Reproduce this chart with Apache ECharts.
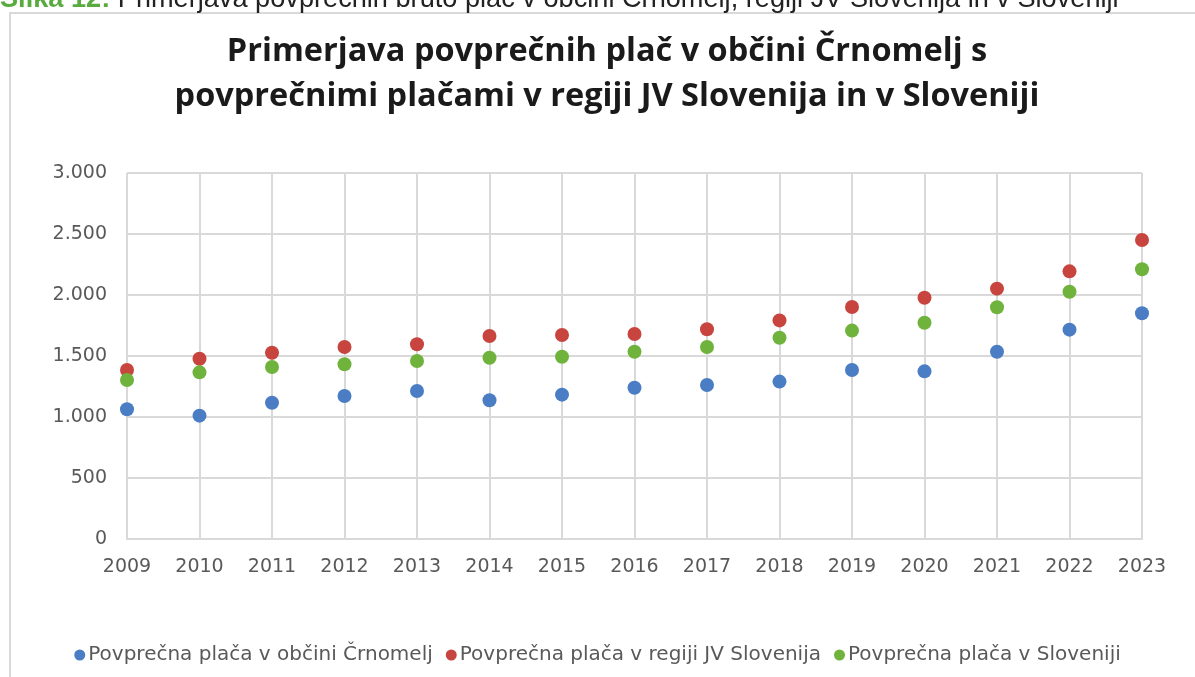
<!DOCTYPE html>
<html>
<head>
<meta charset="utf-8">
<script src="https://cdn.jsdelivr.net/npm/echarts@6/dist/echarts.min.js"></script>
<style>html,body{margin:0;padding:0;background:#fff;}#c{width:1195px;height:677px;}</style>
</head>
<body>
<div id="c"></div>
<script>
const years = ['2009','2010','2011','2012','2013','2014','2015','2016','2017','2018','2019','2020','2021','2022','2023'];
const crnomelj = [1063,1011,1117,1172,1213,1137,1183,1240,1262,1290,1385,1374,1535,1716,1850];
const regija = [1385,1478,1527,1574,1596,1664,1672,1680,1719,1792,1902,1978,2052,2194,2451];
const slovenija = [1303,1366,1410,1432,1459,1486,1494,1535,1574,1650,1708,1773,1899,2027,2211];
const seriesNames = ['Povprečna plača v občini Črnomelj','Povprečna plača v regiji JV Slovenija','Povprečna plača v Sloveniji'];
const titleLines = ['Primerjava povprečnih plač v občini Črnomelj s','povprečnimi plačami v regiji JV Slovenija in v Sloveniji'];
const captionLabel = 'Slika 12:';
const captionText = 'Primerjava povprečnih bruto plač v občini Črnomelj, regiji JV Slovenija in v Sloveniji';

const chart = echarts.init(document.getElementById('c'));
const colors = ['#4a7dc4','#c8453f','#6fb33c'];
const fmt = v => String(v).replace(/\B(?=(\d{3})+(?!\d))/g, '.');
chart.setOption({
  animation: false,
  color: colors,
  textStyle: {fontFamily: 'DejaVu Sans'},
  graphic: [
    {type:'rect', shape:{x:10, y:13, width:1200, height:700}, style:{fill:'#fff', stroke:'#d9d9d9', lineWidth:2}, z:-10},
    {type:'text', x:0, y:13, scaleX:0.97,
     style:{text:'{g|' + captionLabel + '} ' + captionText, verticalAlign:'bottom',
       rich:{g:{font:'bold 28px "Liberation Sans"', fill:'#5aab3f'}},
       font:'28px "Liberation Sans"', fill:'#222'}},
    {type:'text', x:607, y:29, style:{text:titleLines.join('\n'), font:'bold 32.5px "Open Sans"', fill:'#1a1a1a', align:'center', lineHeight:45}}
  ],
  legend: {
    bottom: 7, left: 'center', icon: 'circle', itemWidth: 11, itemHeight: 11, itemGap: 13,
    textStyle: {fontSize: 20, color: '#595959', fontFamily: 'DejaVu Sans', padding: [0,0,0,-2]},
    data: seriesNames
  },
  grid: {left: 127, right: 53, top: 173, bottom: 138},
  xAxis: {
    type: 'category', data: years, boundaryGap: false,
    axisLine: {lineStyle: {color: '#d9d9d9', width: 2}},
    axisTick: {show: false},
    axisLabel: {color: '#595959', fontSize: 19, margin: 19},
    splitLine: {show: true, lineStyle: {color: '#d9d9d9', width: 2}}
  },
  yAxis: {
    type: 'value', min: 0, max: 3000, interval: 500,
    axisLine: {show: false}, axisTick: {show: false},
    axisLabel: {color: '#595959', fontSize: 19, margin: 20, formatter: fmt},
    splitLine: {lineStyle: {color: '#d9d9d9', width: 2}}
  },
  series: [
    {name: seriesNames[0], type: 'scatter', data: crnomelj, symbolSize: 14, itemStyle: {opacity: 1}},
    {name: seriesNames[1], type: 'scatter', data: regija, symbolSize: 14, itemStyle: {opacity: 1}},
    {name: seriesNames[2], type: 'scatter', data: slovenija, symbolSize: 14, itemStyle: {opacity: 1}}
  ]
});
</script>
</body>
</html>
